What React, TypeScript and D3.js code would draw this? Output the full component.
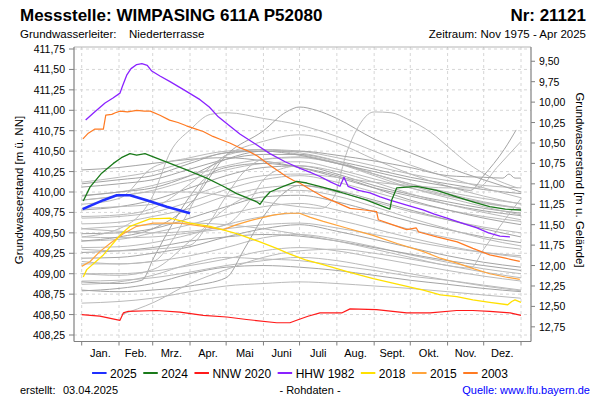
import React from 'react';
import * as d3 from 'd3';

const TITLE = 'Messstelle: WIMPASING 611A P52080';
const NUMBER = 'Nr: 21121';
const AQUIFER_LABEL = 'Grundwasserleiter:';
const AQUIFER = 'Niederterrasse';
const PERIOD = 'Zeitraum: Nov 1975 - Apr 2025';
const LEFT_TITLE = 'Grundwasserstand [m ü. NN]';
const RIGHT_TITLE = 'Grundwasserstand [m u. Gelände]';
const CREATED = '03.04.2025';

const MONTHS = ['Jan.', 'Feb.', 'Mrz.', 'Apr.', 'Mai', 'Juni', 'Juli', 'Aug.', 'Sept.', 'Okt.', 'Nov.', 'Dez.'];
const MONTH_START_DAYS = [0, 31, 59, 90, 120, 151, 181, 212, 243, 273, 304, 334, 365];
const LEFT_TICKS = [411.75, 411.5, 411.25, 411.0, 410.75, 410.5, 410.25, 410.0, 409.75, 409.5, 409.25, 409.0, 408.75, 408.5, 408.25];
const RIGHT_TICKS = [9.5, 9.75, 10.0, 10.25, 10.5, 10.75, 11.0, 11.25, 11.5, 11.75, 12.0, 12.25, 12.5, 12.75];
const GROUND_LEVEL = 421.1;

// grey years: values at MONTH_START_DAYS
const GREY_MONTHLY: number[][] = [
  [410.27, 410.30, 410.35, 410.40, 410.42, 410.38, 410.30, 410.18, 410.05, 409.95, 409.85, 409.77, 409.71],
  [409.85, 409.92, 410.30, 410.42, 410.50, 410.52, 410.46, 410.36, 410.22, 410.08, 409.96, 409.87, 409.80],
  [410.12, 410.18, 410.25, 410.38, 410.48, 410.52, 410.50, 410.42, 410.32, 410.22, 410.14, 410.08, 410.05],
  [410.06, 410.10, 410.15, 410.28, 410.40, 410.46, 410.46, 410.38, 410.28, 410.18, 410.10, 410.03, 409.98],
  [409.96, 410.00, 410.08, 410.20, 410.32, 410.40, 410.42, 410.35, 410.22, 410.10, 410.00, 409.92, 409.86],
  [409.90, 409.95, 410.02, 410.15, 410.27, 410.35, 410.37, 410.28, 410.16, 410.05, 409.95, 409.86, 409.80],
  [409.78, 409.82, 409.90, 410.05, 410.20, 410.30, 410.32, 410.22, 410.08, 409.97, 409.88, 409.80, 409.74],
  [409.68, 409.70, 409.75, 409.88, 410.03, 410.15, 410.20, 410.12, 410.00, 409.88, 409.78, 409.70, 409.64],
  [409.61, 409.63, 409.70, 409.80, 409.95, 410.05, 410.08, 410.00, 409.88, 409.76, 409.66, 409.57, 409.50],
  [409.49, 409.50, 409.55, 409.68, 409.82, 409.94, 409.96, 409.88, 409.76, 409.64, 409.54, 409.45, 409.38],
  [409.40, 409.42, 409.50, 409.60, 409.72, 409.82, 409.86, 409.78, 409.66, 409.54, 409.44, 409.36, 409.30],
  [409.32, 409.33, 409.38, 409.48, 409.60, 409.70, 409.74, 409.66, 409.55, 409.44, 409.34, 409.26, 409.20],
  [409.19, 409.20, 409.25, 409.33, 409.45, 409.55, 409.60, 409.52, 409.42, 409.32, 409.22, 409.14, 409.08],
  [409.12, 409.12, 409.15, 409.22, 409.32, 409.44, 409.48, 409.42, 409.33, 409.23, 409.14, 409.06, 409.00],
  [409.00, 409.00, 409.03, 409.10, 409.18, 409.28, 409.32, 409.28, 409.20, 409.12, 409.04, 408.97, 408.91],
  [409.26, 409.28, 409.32, 409.40, 409.45, 409.48, 409.46, 409.40, 409.32, 409.24, 409.16, 409.10, 409.04],
  [409.45, 409.44, 409.45, 409.50, 409.55, 409.60, 409.62, 409.56, 409.48, 409.40, 409.32, 409.26, 409.22],
  [408.64, 408.66, 408.70, 408.78, 408.85, 408.88, 408.90, 408.88, 408.85, 408.82, 408.78, 408.74, 408.70],
  [408.79, 408.82, 408.88, 409.00, 409.08, 409.10, 409.08, 409.04, 408.98, 408.92, 408.87, 408.82, 408.78],
  [408.87, 408.90, 408.98, 409.12, 409.20, 409.18, 409.16, 409.10, 409.04, 408.97, 408.92, 408.86, 408.80],
  [408.91, 408.92, 408.95, 409.02, 409.10, 409.16, 409.20, 409.16, 409.08, 409.00, 408.92, 408.85, 408.79],
];

// grey years with irregular sampling: [day, value]
const GREY_IRREGULAR: [number, number][][] = [
  [[0, 408.90], [31, 408.88], [50, 408.92], [60, 409.2], [75, 409.6], [90, 409.95], [105, 410.2], [120, 410.3], [151, 410.35], [181, 410.3], [212, 410.2], [243, 410.05], [273, 409.9], [304, 409.78], [334, 409.68], [365, 409.6]],
  [[0, 409.15], [31, 409.12], [59, 409.15], [75, 409.4], [90, 409.8], [105, 410.2], [120, 410.45], [151, 410.52], [181, 410.48], [212, 410.38], [243, 410.22], [273, 410.1], [304, 409.98], [334, 409.88], [365, 409.8]],
  [[0, 409.3], [31, 409.28], [59, 409.3], [90, 409.35], [105, 409.6], [120, 409.95], [135, 410.25], [151, 410.4], [181, 410.43], [212, 410.35], [243, 410.2], [273, 410.05], [304, 409.93], [334, 409.82], [365, 409.72]],
  [[0, 408.8], [31, 408.78], [59, 408.8], [90, 408.85], [120, 408.95], [135, 409.3], [151, 409.7], [165, 409.95], [181, 410.08], [212, 410.02], [243, 409.9], [273, 409.78], [304, 409.66], [334, 409.55], [365, 409.45]],
  [[0, 409.0], [31, 408.98], [59, 409.05], [90, 409.4], [120, 409.8], [151, 410.0], [181, 410.02], [212, 409.95], [243, 409.82], [273, 409.68], [304, 409.55], [334, 409.43], [365, 409.34]],
  [[0, 409.45], [31, 409.55], [59, 409.95], [74, 410.5], [90, 410.76], [107, 410.95], [121, 410.97], [151, 410.9], [181, 410.82], [212, 410.68], [243, 410.5], [273, 410.33], [304, 410.18], [334, 410.05], [365, 409.93]],
  [[0, 409.4], [31, 409.45], [59, 409.55], [90, 409.85], [120, 410.45], [151, 410.75], [170, 410.98], [181, 411.04], [195, 411.0], [212, 410.9], [243, 410.65], [273, 410.48], [304, 410.3], [334, 410.15], [365, 410.0]],
  [[0, 409.9], [31, 409.95], [59, 410.0], [90, 410.0], [120, 409.95], [151, 409.88], [181, 409.82], [199, 409.8], [210, 409.95], [219, 410.43], [228, 410.75], [243, 410.98], [257, 410.97], [271, 410.89], [290, 410.73], [307, 410.52], [321, 410.35], [340, 410.18], [362, 410.05]],
  [[0, 409.7], [31, 409.72], [59, 409.8], [90, 410.1], [120, 410.45], [151, 410.62], [181, 410.7], [212, 410.6], [243, 410.4], [273, 410.22], [304, 410.07], [334, 409.95], [365, 409.85]],
  [[0, 410.1], [31, 410.15], [59, 410.2], [90, 410.35], [120, 410.48], [151, 410.5], [181, 410.45], [212, 410.35], [243, 410.25], [273, 410.15], [304, 410.07], [323, 410.02], [334, 410.2], [351, 410.52], [361, 410.76]],
  [[0, 409.8], [31, 409.82], [59, 409.85], [90, 409.95], [120, 410.1], [151, 410.2], [181, 410.22], [212, 410.18], [243, 410.12], [273, 410.08], [304, 410.05], [329, 410.05], [345, 410.3], [365, 410.62]],
  [[0, 409.55], [31, 409.58], [59, 409.6], [90, 409.62], [120, 409.6], [151, 409.55], [181, 409.48], [212, 409.4], [243, 409.3], [273, 409.2], [304, 409.1], [323, 409.07], [334, 409.3], [351, 409.65], [365, 409.92]],
  [[0, 409.95], [31, 410.0], [59, 410.05], [90, 410.2], [120, 410.4], [151, 410.5], [181, 410.5], [212, 410.45], [243, 410.38], [273, 410.3], [304, 410.2], [334, 410.18], [350, 410.17], [355, 410.22], [360, 410.17], [365, 410.17]],
  [[33, 408.5], [60, 408.65], [90, 408.88], [120, 409.05], [151, 409.2], [181, 409.28], [212, 409.3], [243, 409.25], [273, 409.18], [304, 409.1], [334, 409.02], [365, 408.95]],
  [[0, 409.55], [31, 409.52], [59, 409.5], [90, 409.52], [120, 409.6], [140, 409.9], [151, 410.15], [170, 410.3], [181, 410.32], [212, 410.25], [243, 410.12], [273, 409.98], [304, 409.85], [334, 409.75], [365, 409.66]],
];

const Y2003: [number, number][] = [[1, 410.65], [5.5, 410.72], [11, 410.77], [18, 410.77], [20, 410.94], [25, 410.95], [28, 410.97], [32, 410.99], [38, 410.98], [46, 411.0], [52, 410.99], [57, 410.99], [65, 410.94], [73, 410.88], [80, 410.85], [87, 410.81], [95, 410.77], [101, 410.74], [109, 410.68], [116, 410.64], [123, 410.6], [130, 410.55], [137, 410.51], [146, 410.44], [156, 410.33], [163, 410.26], [170, 410.19], [176, 410.14], [181, 410.11], [190, 410.03], [201, 409.94], [212, 409.87], [223, 409.8], [235, 409.78], [245, 409.76], [246.5, 409.66], [258, 409.6], [270, 409.54], [278, 409.56], [280, 409.51], [295, 409.45], [312, 409.39], [325, 409.31], [339, 409.23], [352, 409.19], [364, 409.15]];
const Y2015: [number, number][] = [[0, 409.09], [7, 409.15], [15, 409.27], [23.5, 409.37], [34.6, 409.49], [45.7, 409.58], [59.5, 409.62], [70, 409.62], [81.7, 409.62], [101, 409.58], [117.6, 409.54], [128.8, 409.6], [140, 409.65], [151, 409.69], [160, 409.72], [170, 409.74], [181, 409.74], [190, 409.69], [200.7, 409.64], [220, 409.56], [242, 409.47], [262, 409.37], [284, 409.27], [298, 409.19], [312, 409.13], [326, 409.06], [339, 409.0], [352, 408.96], [364, 408.93]];
const Y2018: [number, number][] = [[1.3, 408.96], [4.2, 409.05], [18, 409.23], [31.8, 409.47], [40.1, 409.58], [56.7, 409.67], [73.4, 409.68], [90, 409.62], [106.6, 409.58], [128.8, 409.49], [148.1, 409.39], [162, 409.31], [173, 409.24], [186, 409.17], [200.7, 409.11], [222, 409.02], [242.3, 408.94], [263, 408.87], [283.8, 408.8], [298, 408.74], [311.6, 408.72], [325, 408.68], [339, 408.65], [354, 408.62], [357.3, 408.66], [360, 408.68], [365, 408.65]];
const HHW_1982: [number, number][] = [[3.3, 410.88], [10, 410.97], [19.4, 411.09], [26, 411.15], [31.8, 411.21], [34, 411.3], [37.4, 411.43], [41, 411.51], [45.7, 411.56], [50, 411.57], [54.5, 411.55], [58.2, 411.48], [65, 411.42], [73.4, 411.35], [86, 411.24], [98.3, 411.13], [106, 411.04], [113.5, 410.92], [122, 410.82], [131.4, 410.71], [144, 410.59], [156.4, 410.47], [169, 410.37], [181.4, 410.29], [190, 410.24], [198, 410.19], [207, 410.12], [214.6, 410.07], [217.9, 410.18], [221.3, 410.07], [230, 410.02], [239.5, 409.99], [248, 409.94], [256.1, 409.9], [270, 409.84], [283.6, 409.78], [293, 409.73], [303.5, 409.68], [316, 409.62], [328.4, 409.56], [338, 409.5], [347.5, 409.46], [355.8, 409.45]];
const NNW_2020: [number, number][] = [[0, 408.5], [15, 408.48], [31.8, 408.43], [34.6, 408.52], [38.7, 408.54], [62.3, 408.55], [81.7, 408.53], [101, 408.49], [120.5, 408.47], [137, 408.44], [162, 408.4], [173, 408.4], [178.6, 408.43], [188, 408.48], [198, 408.52], [216, 408.52], [223, 408.57], [245, 408.56], [270, 408.52], [289.4, 408.52], [311.6, 408.55], [325, 408.55], [339, 408.54], [356, 408.52], [365, 408.49]];
const Y2024: [number, number][] = [[1.3, 409.89], [6.9, 410.06], [16.6, 410.23], [26.3, 410.35], [33, 410.42], [40.1, 410.47], [45.7, 410.45], [52.6, 410.47], [59.5, 410.43], [73.4, 410.35], [87.2, 410.27], [103.9, 410.17], [117.6, 410.07], [128.8, 409.98], [145.4, 409.88], [148.1, 409.85], [152, 409.93], [156.4, 410.0], [167.5, 410.07], [178.6, 410.13], [187, 410.11], [200, 410.06], [214.6, 410.0], [236.8, 409.9], [256.1, 409.79], [257.5, 409.9], [261.7, 410.05], [278.3, 410.07], [295, 410.02], [311.6, 409.94], [325, 409.88], [339, 409.82], [352, 409.79], [365, 409.78]];
const Y2025: [number, number][] = [[0.8, 409.79], [6.9, 409.83], [18, 409.9], [29.1, 409.96], [40.1, 409.96], [54, 409.9], [70.6, 409.82], [90, 409.74]];

const LEGEND_LABELS = ['2025', '2024', 'NNW 2020', 'HHW 1982', '2018', '2015', '2003'];
const LEGEND_COLORS = ['#1f2fff', '#1a7a1a', '#ff1a1a', '#8a22ff', '#ffe000', '#ffa43c', '#ff7a22'];

const FONT = '"Liberation Sans", Arial, sans-serif';

function measure(text: string, size: number): number {
  if (typeof document === 'undefined') return text.length * size * 0.55;
  const c = document.createElement('canvas').getContext('2d');
  if (!c) return text.length * size * 0.55;
  c.font = `${size}px "Liberation Sans", Arial, sans-serif`;
  return c.measureText(text).width;
}

const fmt = (v: number) => v.toFixed(2).replace('.', ',');

export default function App() {
  const W = 600, H = 400;
  const left = 74, right = 531, top = 47, bottom = 341.5;
  const x = d3.scaleLinear().domain([0, 365]).range([81.7, 521]);
  const y = d3.scaleLinear().domain([408.25, 411.75]).range([335, 49]);
  const yRight = (v: number) => y(GROUND_LEVEL - v);

  const smooth = d3.line<[number, number]>().x(d => x(d[0])).y(d => y(d[1])).curve(d3.curveMonotoneX);
  const straight = d3.line<[number, number]>().x(d => x(d[0])).y(d => y(d[1]));

  const greySeries: [number, number][][] = [
    ...GREY_MONTHLY.map(vals => vals.map((v, i) => [MONTH_START_DAYS[i], v] as [number, number])),
    ...GREY_IRREGULAR,
  ];

  const highlighted: { data: [number, number][]; color: string; width: number }[] = [
    { data: Y2003, color: LEGEND_COLORS[6], width: 1.2 },
    { data: Y2015, color: LEGEND_COLORS[5], width: 1.2 },
    { data: Y2018, color: LEGEND_COLORS[4], width: 1.3 },
    { data: HHW_1982, color: LEGEND_COLORS[3], width: 1.3 },
    { data: NNW_2020, color: LEGEND_COLORS[2], width: 1.2 },
    { data: Y2024, color: LEGEND_COLORS[1], width: 1.3 },
    { data: Y2025, color: LEGEND_COLORS[0], width: 2.6 },
  ];

  // legend layout
  const legFont = 12;
  const segLen = 14.5, segGap = 3.5, itemGap = 6.5;
  const widths = LEGEND_LABELS.map(l => segLen + segGap + measure(l, legFont));
  const total = widths.reduce((a, b) => a + b, 0) + itemGap * (widths.length - 1);
  let cursor = 300 - total / 2;
  const legendItems = LEGEND_LABELS.map((l, i) => {
    const item = { label: l, color: LEGEND_COLORS[i], x: cursor };
    cursor += widths[i] + itemGap;
    return item;
  });

  return (
    <svg width={W} height={H} style={{ position: 'absolute', left: 0, top: 0, background: '#fff' }} fontFamily={FONT}>
      <rect x={0} y={0} width={W} height={H} fill="#fff" />
      {/* header */}
      <text x={20} y={21} fontSize={17} fontWeight="bold" fill="#000">{TITLE}</text>
      <text x={586} y={21} fontSize={17} fontWeight="bold" fill="#000" textAnchor="end">{NUMBER}</text>
      <text x={20} y={38} fontSize={11.5} fill="#000">{AQUIFER_LABEL}</text>
      <text x={129} y={38} fontSize={11.5} fill="#000">{AQUIFER}</text>
      <text x={586} y={38} fontSize={11.5} fill="#000" textAnchor="end">{PERIOD}</text>

      {/* grid */}
      {LEFT_TICKS.map(t => (
        <line key={'gh' + t} x1={left} x2={right} y1={y(t)} y2={y(t)} stroke="#d6d6d6" strokeDasharray="3,3" strokeWidth={1} />
      ))}
      {MONTH_START_DAYS.map(d => (
        <line key={'gv' + d} x1={x(d)} x2={x(d)} y1={top} y2={bottom} stroke="#d6d6d6" strokeDasharray="3,3" strokeWidth={1} />
      ))}

      {/* grey years */}
      {greySeries.map((s, i) => (
        <path key={'g' + i} d={smooth(s) || ''} fill="none" stroke={i % 3 === 0 ? '#a4a4a4' : '#bababa'} strokeWidth={1} />
      ))}

      {/* highlighted years */}
      {highlighted.map((h, i) => (
        <path key={'h' + i} d={straight(h.data) || ''} fill="none" stroke={h.color} strokeWidth={h.width} strokeLinejoin="round" />
      ))}

      {/* frame */}
      <line x1={left} x2={right} y1={top} y2={top} stroke="#b4b4b4" strokeWidth={1} />
      <line x1={left} x2={left} y1={top} y2={bottom} stroke="#808080" strokeWidth={1.2} />
      <line x1={right} x2={right} y1={top} y2={bottom} stroke="#808080" strokeWidth={1.2} />
      <line x1={left} x2={right} y1={bottom} y2={bottom} stroke="#808080" strokeWidth={1.2} />

      {/* left axis */}
      {LEFT_TICKS.map(t => (
        <g key={'lt' + t}>
          <line x1={left - 5} x2={left} y1={y(t)} y2={y(t)} stroke="#808080" />
          <text x={left - 9} y={y(t) + 4} fontSize={10.5} textAnchor="end" fill="#000">{fmt(t)}</text>
        </g>
      ))}
      {/* right axis */}
      {RIGHT_TICKS.map(t => (
        <g key={'rt' + t}>
          <line x1={right} x2={right + 4} y1={yRight(t)} y2={yRight(t)} stroke="#808080" />
          <text x={right + 8} y={yRight(t) + 4} fontSize={10.5} fill="#000">{fmt(t)}</text>
        </g>
      ))}
      {/* bottom axis */}
      {MONTH_START_DAYS.map(d => (
        <line key={'bt' + d} x1={x(d)} x2={x(d)} y1={bottom} y2={bottom + 4} stroke="#808080" />
      ))}
      {MONTHS.map((m, i) => (
        <text key={'m' + m} x={(x(MONTH_START_DAYS[i]) + x(MONTH_START_DAYS[i + 1])) / 2} y={356.5} fontSize={11} textAnchor="middle" fill="#000">{m}</text>
      ))}

      {/* axis titles */}
      <text transform={`translate(23,190) rotate(-90)`} fontSize={11.5} textAnchor="middle" fill="#000">{LEFT_TITLE}</text>
      <text transform={`translate(576,180) rotate(90)`} fontSize={11.5} textAnchor="middle" fill="#000">{RIGHT_TITLE}</text>

      {/* legend */}
      {legendItems.map(it => (
        <g key={'lg' + it.label}>
          <line x1={it.x} x2={it.x + segLen} y1={373} y2={373} stroke={it.color} strokeWidth={2} />
          <text x={it.x + segLen + segGap} y={377.5} fontSize={legFont} fill="#000">{it.label}</text>
        </g>
      ))}

      {/* footer */}
      <text x={20} y={394} fontSize={11} fill="#000">erstellt:</text>
      <text x={63} y={394} fontSize={11} fill="#000">{CREATED}</text>
      <text x={310} y={394} fontSize={11} fill="#000" textAnchor="middle">- Rohdaten -</text>
      <text x={590} y={394} fontSize={11} fill="#0000ff" textAnchor="end">Quelle: www.lfu.bayern.de</text>
    </svg>
  );
}
